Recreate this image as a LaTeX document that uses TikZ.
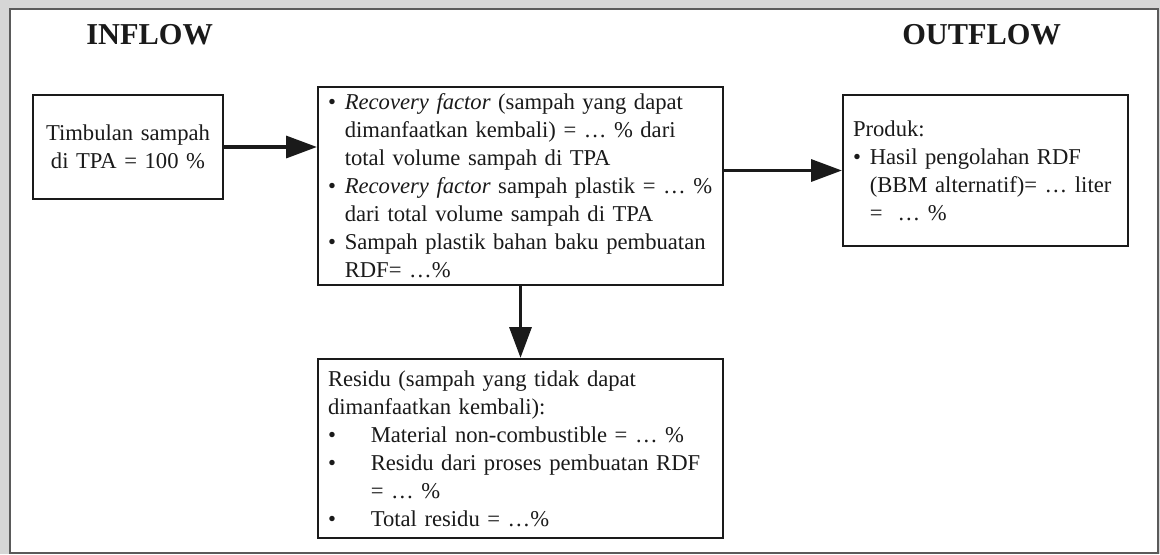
\documentclass[tikz,border=0pt]{standalone}
\usepackage{fontspec}
\setmainfont{Liberation Serif}
\usepackage{tikz}
\usetikzlibrary{positioning,arrows.meta}
\definecolor{frame}{HTML}{5A5A5A}
\definecolor{outside}{HTML}{D6D6D6}
\definecolor{ink}{HTML}{1A1A1A}
\newcommand{\bul}{\makebox[0.42cm][l]{\textbullet}}
\newcommand{\hang}{\hspace*{0.42cm}}
\newcommand{\rbul}{\makebox[1.07cm][l]{\textbullet}}
\newcommand{\rhang}{\hspace*{1.07cm}}
\tikzset{
    box/.style={rectangle, draw=ink, line width=1.4pt, inner xsep=0.15cm, inner ysep=0pt, font=\fontsize{16.1}{19.9}\selectfont, align=left, text=ink},
    title/.style={font=\fontsize{21.6}{24}\selectfont\bfseries, text=ink},
    flow/.style={-{Triangle[length=22pt,width=15.5pt]}, line width=2.8pt, draw=ink}
}

\begin{document}
\begin{tikzpicture}[node distance=1cm]

% Page and frame
\useasboundingbox (0,0) rectangle (29,-13.85);
\fill[outside] (0,0) rectangle (29,-13.85);
\draw[frame, fill=white, line width=1.5pt] (0.25,-0.225) rectangle (28.95,-13.825);

% Column titles
\node[title] at (3.74,-0.875) (inflow) {INFLOW};
\node[title] at (24.54,-0.875) (outflow) {OUTFLOW};

% Inflow
\node[box, align=center, text width=4.45cm, minimum height=2.6cm] at (3.2,-3.675) (tim) {Timbulan sampah\\di TPA = 100 \%};

% Recovery
\node[box, text width=9.825cm, minimum height=4.95cm] at (13.0125,-4.65) (rf) {%
\hspace*{0.1cm}\bul\textit{Recovery factor} (sampah yang dapat\\
\hspace*{0.1cm}\hang dimanfaatkan kembali) = … \% dari\\
\hspace*{0.1cm}\hang total volume sampah di TPA\\
\hspace*{0.1cm}\bul\textit{Recovery factor} sampah plastik = … \%\\
\hspace*{0.1cm}\hang dari total volume sampah di TPA\\
\hspace*{0.1cm}\bul Sampah plastik bahan baku pembuatan\\
\hspace*{0.1cm}\hang RDF= …\%};

% Outflow
\node[box, text width=6.825cm, minimum height=3.775cm] at (24.6375,-4.2625) (prod) {%
\hspace*{0.1cm}Produk:\\
\hspace*{0.1cm}\bul Hasil pengolahan RDF\\
\hspace*{0.1cm}\hang (BBM alternatif)= … liter\\
\hspace*{0.1cm}\hang =~ … \%};

% Residue
\node[box, text width=9.825cm, minimum height=4.475cm, below=1.8cm of rf] (resid) {%
\hspace*{0.1cm}Residu (sampah yang tidak dapat\\
\hspace*{0.1cm}dimanfaatkan kembali):\\
\hspace*{0.1cm}\rbul Material non-combustible = … \%\\
\hspace*{0.1cm}\rbul Residu dari proses pembuatan RDF\\
\hspace*{0.1cm}\rhang = … \%\\
\hspace*{0.1cm}\rbul Total residu = …\%};

\draw[flow] (tim.east) -- (tim.east -| rf.west);
\draw[flow] (rf.east |- prod.west) -- (prod.west);
\draw[flow] (rf.south) -- (resid.north);

\end{tikzpicture}
\end{document}
